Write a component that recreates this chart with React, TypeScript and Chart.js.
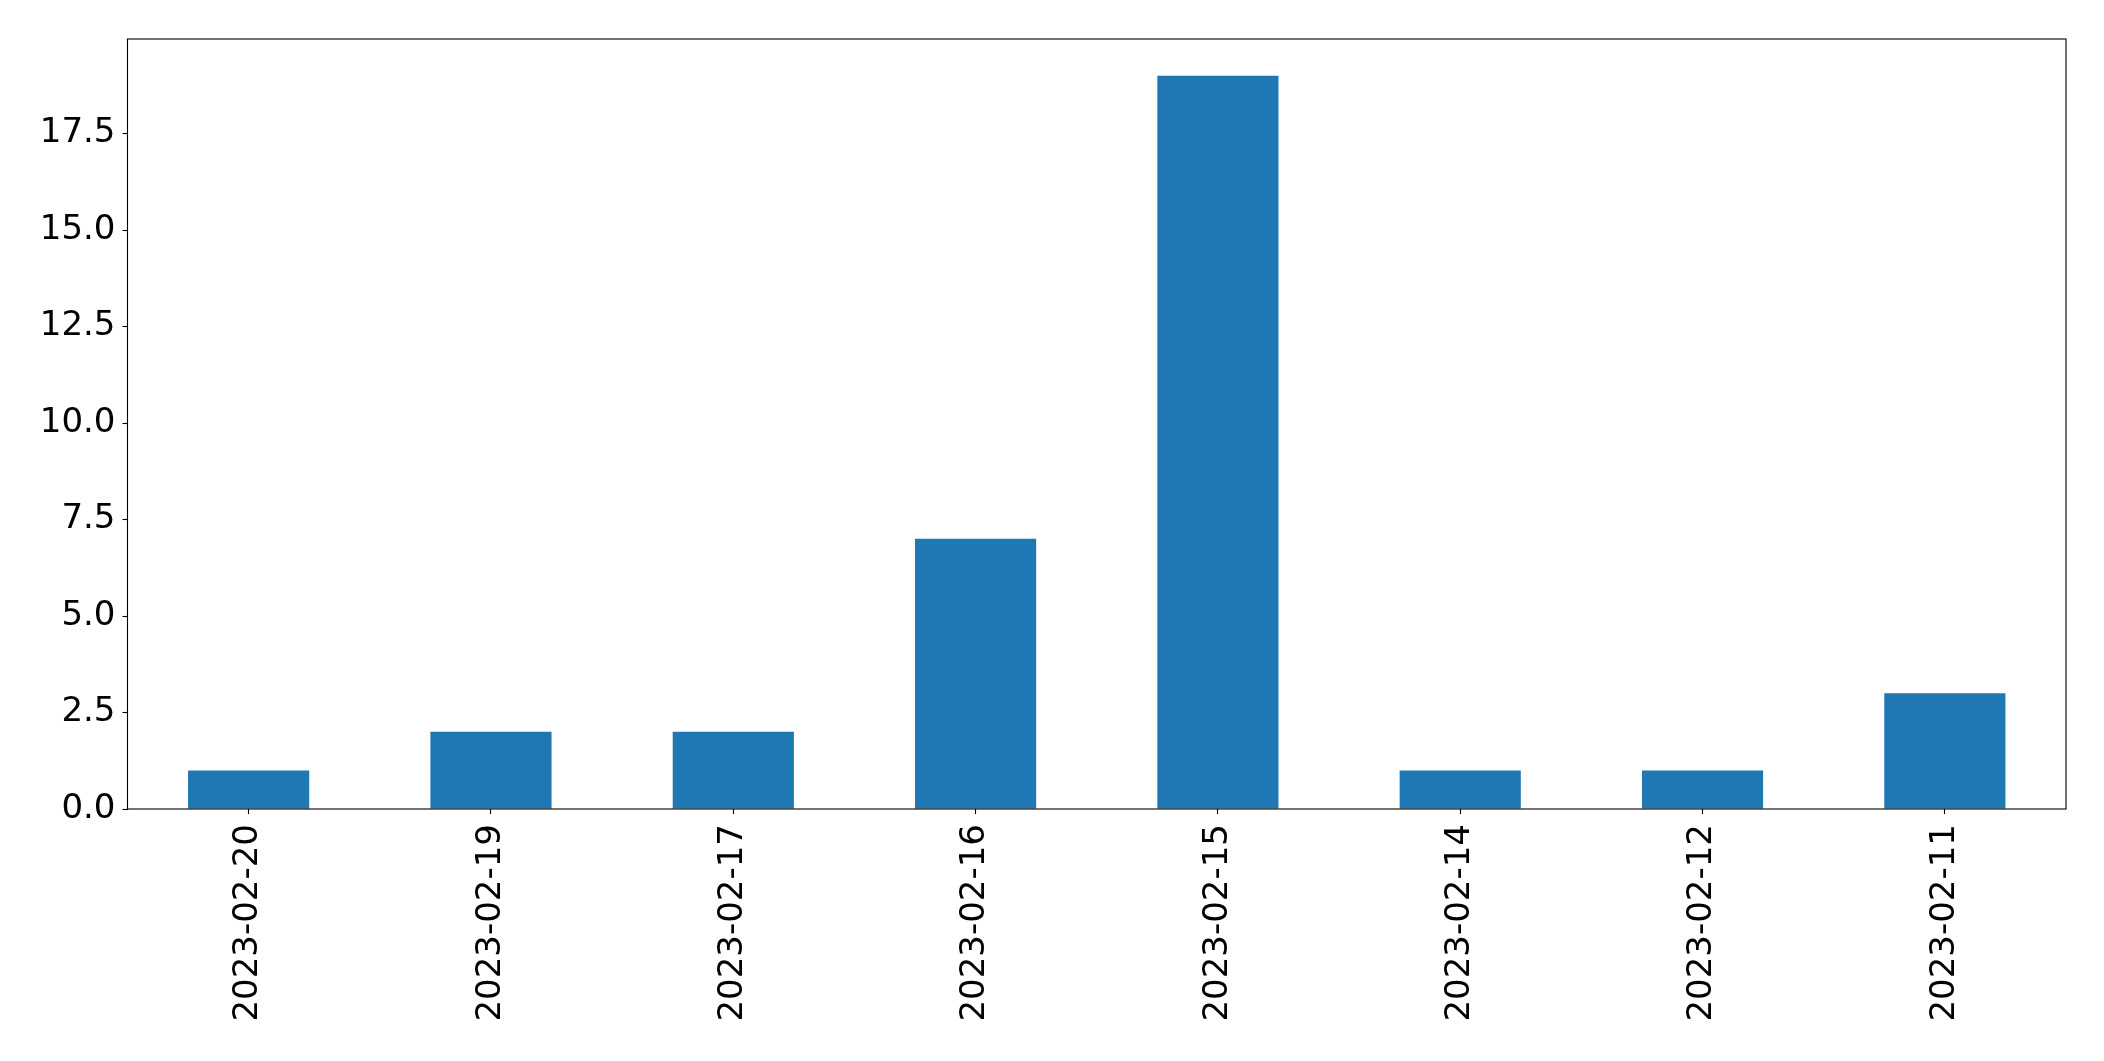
import React, { useEffect, useRef } from "react";
import { Chart, registerables } from "chart.js";

Chart.register(...registerables);

const categories = [
  "2023-02-20",
  "2023-02-19",
  "2023-02-17",
  "2023-02-16",
  "2023-02-15",
  "2023-02-14",
  "2023-02-12",
  "2023-02-11",
];
const counts = [1, 2, 2, 7, 19, 1, 1, 3];
const yTicks = [0, 2.5, 5, 7.5, 10, 12.5, 15, 17.5];
const yMax = 19.95;

const W = 2104;
const H = 1061;

const frame = {
  id: "frame",
  afterDatasetsDraw(chart: any) {
    const { ctx, chartArea } = chart;
    ctx.save();
    ctx.strokeStyle = "#000";
    ctx.lineWidth = 1.1;
    ctx.strokeRect(chartArea.left, chartArea.top, chartArea.right - chartArea.left, chartArea.bottom - chartArea.top);
    ctx.restore();
  },
};

export default function App() {
  const ref = useRef<HTMLCanvasElement | null>(null);
  useEffect(() => {
    if (!ref.current) return;
    const font = { family: "'DejaVu Sans'", size: 34 };
    const chart = new Chart(ref.current, {
      type: "bar",
      data: {
        labels: categories,
        datasets: [
          {
            data: counts,
            backgroundColor: "#1f77b4",
            categoryPercentage: 1,
            barPercentage: 0.5,
            borderWidth: 0,
          },
        ],
      },
      options: {
        responsive: false,
        animation: false,
        devicePixelRatio: 1,
        layout: { padding: { left: 0, top: 39, right: 38, bottom: 0 } },
        plugins: { legend: { display: false }, tooltip: { enabled: false } },
        scales: {
          x: {
            offset: true,
            grid: { display: true, drawOnChartArea: false, drawTicks: true, tickLength: 5, tickColor: "#000", tickWidth: 1.1, offset: false },
            border: { display: false },
            ticks: { color: "#000", font, minRotation: 90, maxRotation: 90, padding: 10, autoSkip: false },
            afterFit: (s: any) => {
              s.height = 252;
            },
          },
          y: {
            min: 0,
            max: yMax,
            grid: { display: true, drawOnChartArea: false, drawTicks: true, tickLength: 5, tickColor: "#000", tickWidth: 1.1 },
            border: { display: false },
            ticks: {
              color: "#000",
              font,
              padding: 7,
              includeBounds: false,
              callback: (v: any) => Number(v).toFixed(1),
            },
            afterBuildTicks: (s: any) => {
              s.ticks = yTicks.map((v) => ({ value: v }));
            },
            afterFit: (s: any) => {
              s.width = 127.5;
            },
          },
        },
      },
      plugins: [frame],
    });
    return () => chart.destroy();
  }, []);
  return (
    <div style={{ position: "absolute", left: 0, top: 0, width: W, height: H, background: "#fff" }}>
      <canvas ref={ref} width={W} height={H} style={{ width: W, height: H, display: "block" }} />
    </div>
  );
}
